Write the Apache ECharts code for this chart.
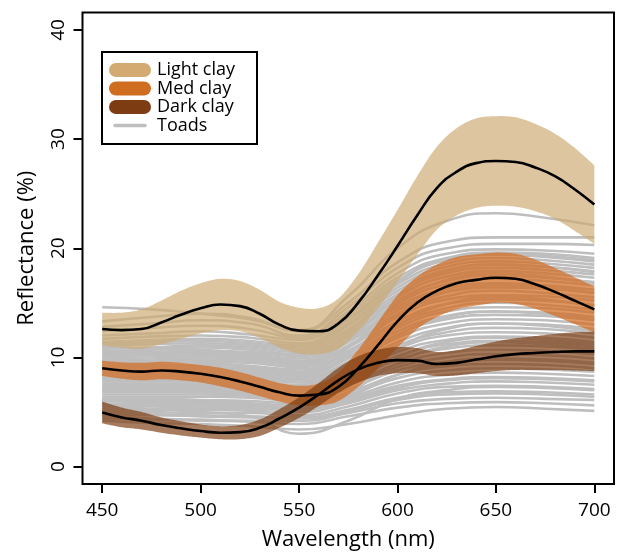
<!DOCTYPE html>
<html>
<head>
<meta charset="utf-8">
<script src="https://cdn.jsdelivr.net/npm/echarts@6/dist/echarts.min.js"></script>
<style>html,body{margin:0;padding:0;background:#fff}#chart{width:625px;height:556px}</style>
</head>
<body>
<div id="chart"></div>
<script>
// wavelengths for clay bands (nm)
var wl = [450,460,470,480,490,500,510,520,530,540,550,560,570,580,590,600,610,620,630,640,650,660,670,680,690,700];
var lightMean = [12.6,12.5,12.6,13.2,13.9,14.5,14.85,14.7,14.0,13.0,12.45,12.4,13.1,15.0,17.5,20.2,23.0,25.5,27.0,27.8,28.0,27.9,27.4,26.6,25.4,24.0];
var lightLo = [11.1,10.9,10.8,11.2,11.7,12.2,12.5,12.4,11.8,10.9,10.35,10.3,10.8,12.4,14.5,16.9,19.4,21.7,23.0,23.7,23.9,23.8,23.4,22.7,21.6,20.4];
var lightHi = [14.1,14.1,14.4,15.2,16.1,16.8,17.2,17.0,16.2,15.1,14.55,14.5,15.4,17.6,20.5,23.5,26.6,29.3,31.0,31.9,32.1,32.0,31.4,30.5,29.2,27.6];
var medMean = [9.0,8.8,8.7,8.8,8.7,8.5,8.2,7.8,7.3,6.8,6.5,6.6,7.3,9.0,11.1,13.3,15.0,16.1,16.8,17.1,17.3,17.2,16.7,16.0,15.2,14.4];
var medLo = [8.3,8.05,7.9,8.0,7.9,7.7,7.35,6.95,6.45,5.95,5.6,5.6,6.0,7.3,9.0,10.9,12.6,13.7,14.4,14.75,15.0,14.9,14.45,13.8,13.05,12.3];
var medHi = [9.7,9.55,9.5,9.6,9.5,9.3,9.05,8.65,8.15,7.65,7.4,7.6,8.6,10.7,13.2,15.7,17.4,18.5,19.2,19.45,19.6,19.5,18.95,18.2,17.35,16.5];
var darkMean = [4.95,4.5,4.2,3.8,3.5,3.25,3.1,3.15,3.55,4.4,5.4,6.6,7.9,8.9,9.5,9.75,9.7,9.4,9.5,9.8,10.1,10.3,10.4,10.5,10.55,10.55];
var darkLo = [3.95,3.6,3.4,3.1,2.85,2.65,2.5,2.5,2.8,3.55,4.45,5.55,6.75,7.7,8.3,8.55,8.55,8.3,8.35,8.55,8.75,8.85,8.85,8.85,8.8,8.75];
var darkHi = [5.95,5.4,5.0,4.5,4.15,3.85,3.7,3.8,4.3,5.25,6.35,7.65,9.05,10.1,10.7,10.95,10.85,10.5,10.65,11.05,11.45,11.75,11.95,12.15,12.3,12.35];

// wavelengths for individual toad spectra (nm)
var wlToad = [450,475,500,525,550,575,600,625,650,675,700];
var toads = [
  [4.2,4.0,3.9,3.7,3.4,3.9,4.7,5.3,5.45,5.3,5.1],
  [4.4,4.3,4.2,4.1,3.9,4.6,5.4,5.8,5.9,5.8,5.6],
  [4.6,4.4,4.3,4.2,4.2,4.9,5.8,6.2,6.3,6.2,6.1],
  [5.5,5.3,5.0,4.6,3.0,4.2,6.2,7.0,7.3,7.2,7.0],
  [4.9,4.8,4.7,4.6,4.5,5.2,6.3,6.8,6.9,6.8,6.6],
  [5.1,5.0,4.9,4.9,4.7,5.5,6.7,7.3,7.4,7.3,7.1],
  [5.3,5.2,5.2,5.1,5.0,5.8,7.0,7.6,7.8,7.7,7.5],
  [5.6,5.5,5.4,5.4,5.2,6.1,7.4,8.0,8.2,8.1,7.9],
  [5.8,5.7,5.7,5.6,5.4,6.3,7.7,8.4,8.6,8.5,8.3],
  [6.0,5.9,5.9,5.8,5.6,6.6,8.1,8.8,9.0,8.9,8.7],
  [6.2,6.2,6.1,6.0,5.8,6.8,8.4,9.2,9.4,9.3,9.0],
  [6.4,6.4,6.4,6.3,6.0,7.1,8.8,9.6,9.9,9.8,9.5],
  [6.6,6.6,6.6,6.5,6.3,7.4,9.1,10.0,10.3,10.2,9.9],
  [6.8,6.8,6.8,6.7,6.5,7.6,9.4,10.4,10.7,10.6,10.3],
  [7.0,7.0,7.0,6.9,6.7,7.9,9.8,10.8,11.1,11.0,10.7],
  [7.2,7.2,7.2,7.1,6.9,8.1,10.1,11.2,11.5,11.4,11.0],
  [7.4,7.4,7.4,7.3,7.1,8.4,10.5,11.6,11.9,11.8,11.4],
  [7.6,7.6,7.6,7.5,7.3,8.6,10.8,12.0,12.3,12.2,11.8],
  [7.8,7.8,7.8,7.7,7.5,8.9,11.1,12.3,12.7,12.6,12.2],
  [8.0,8.0,8.1,8.0,7.7,9.1,11.4,12.7,13.1,13.0,12.6],
  [8.2,8.2,8.3,8.2,7.9,9.4,11.8,13.1,13.5,13.4,13.0],
  [8.4,8.5,8.5,8.4,8.1,9.6,12.1,13.5,13.9,13.8,13.4],
  [8.6,8.7,8.7,8.6,8.3,9.9,12.4,13.8,14.2,14.1,13.7],
  [8.8,8.9,8.9,8.8,8.5,10.1,12.7,14.2,14.6,14.5,14.1],
  [9.0,9.1,9.1,9.0,8.7,10.4,13.0,14.5,15.0,14.8,14.4],
  [9.2,9.3,9.3,9.2,8.9,10.6,13.3,14.9,15.3,15.2,14.8],
  [9.4,9.5,9.6,9.5,9.1,10.9,13.7,15.3,15.7,15.6,15.2],
  [9.6,9.7,9.8,9.7,9.3,11.1,14.0,15.6,16.1,15.9,15.5],
  [9.8,9.9,10.0,9.9,9.5,11.4,14.3,16.0,16.4,16.3,15.9],
  [10.0,10.1,10.2,10.1,9.7,11.6,14.6,16.3,16.8,16.6,16.2],
  [10.2,10.3,10.4,10.3,9.9,11.9,14.9,16.7,17.2,17.0,16.6],
  [10.4,10.5,10.6,10.5,10.1,12.1,15.2,17.0,17.5,17.3,16.9],
  [10.6,10.7,10.9,10.7,10.3,12.4,15.5,17.4,17.9,17.7,17.3],
  [10.8,10.9,11.1,10.9,10.5,12.6,15.8,17.7,18.2,18.0,17.6],
  [11.0,11.2,11.3,11.1,10.7,12.9,16.1,18.0,18.5,18.3,17.9],
  [11.2,11.4,11.5,11.3,10.9,13.1,16.4,18.3,18.8,18.6,18.2],
  [11.4,11.6,11.7,11.5,11.1,13.4,16.7,18.6,19.1,18.9,18.5],
  [11.7,11.9,12.0,11.8,11.3,13.6,17.0,18.9,19.4,19.2,18.8],
  [12.0,12.2,12.4,12.1,11.6,13.9,17.3,19.1,19.6,19.5,19.1],
  [12.4,12.7,12.9,12.6,11.8,14.2,17.7,19.5,19.9,19.8,19.5],
  [12.8,13.1,13.4,13.1,12.0,14.6,18.2,20.0,20.4,20.4,20.3],
  [13.3,13.7,14.0,13.6,12.4,15.0,18.7,20.6,21.0,21.0,21.0],
  [14.6,14.4,14.0,13.5,12.5,15.6,20.0,22.5,23.2,22.8,22.1],
  [6.1,6.0,5.9,5.7,5.3,6.8,9.5,11.0,11.4,11.2,10.8],
  [7.1,7.0,6.9,6.7,6.2,7.8,10.8,12.6,13.1,12.9,12.4],
  [8.5,8.4,8.3,8.0,7.4,9.4,12.9,14.9,15.5,15.3,14.7],
  [9.7,9.6,9.5,9.2,8.6,10.9,14.9,17.1,17.7,17.4,16.8],
  [5.2,5.2,5.3,5.3,5.2,6.0,7.2,7.9,8.1,8.0,7.8],
  [4.7,4.7,4.6,4.5,4.4,5.1,6.1,6.6,6.7,6.6,6.4],
  [10.9,10.8,10.7,10.3,9.6,12.2,16.8,19.0,19.5,19.3,18.9],
  [6.9,6.9,6.8,6.6,6.1,7.5,10.0,11.4,11.8,11.6,11.2],
  [8.1,8.1,8.0,7.8,7.2,8.9,12.0,13.7,14.2,14.0,13.5],
  [9.3,9.2,9.1,8.9,8.3,10.3,13.9,16.0,16.6,16.4,15.9],
  [10.5,10.4,10.3,10.0,9.3,11.6,15.6,17.9,18.5,18.3,17.8],
  [5.7,5.6,5.6,5.5,5.3,6.4,8.4,9.5,9.8,9.7,9.4]
];

var xTicks = [450,500,550,600,650,700];
var yTicks = [0,10,20,30,40];
var legendNames = ['Light clay','Med clay','Dark clay','Toads'];
var legendColors = ['#D2AA72','#CF6D20','#7E3C12','#BEBEBE'];
var bandColors = ['rgba(205,170,115,0.68)','rgba(210,105,30,0.7)','rgba(120,55,10,0.66)'];

var FONT = 'Open Sans';

function pairs(xs, ys){ return xs.map(function(x,i){ return [x, ys[i]]; }); }

// Catmull-Rom sampling in pixel space (rendering only)
function splinePts(pts){
  var out = [], n = pts.length, S = 12;
  for (var i = 0; i < n - 1; i++){
    var p0 = pts[Math.max(i-1,0)], p1 = pts[i], p2 = pts[i+1], p3 = pts[Math.min(i+2,n-1)];
    for (var s = 0; s < S; s++){
      var t = s / S, t2 = t*t, t3 = t2*t;
      var x = 0.5*((2*p1[0]) + (-p0[0]+p2[0])*t + (2*p0[0]-5*p1[0]+4*p2[0]-p3[0])*t2 + (-p0[0]+3*p1[0]-3*p2[0]+p3[0])*t3);
      var y = 0.5*((2*p1[1]) + (-p0[1]+p2[1])*t + (2*p0[1]-5*p1[1]+4*p2[1]-p3[1])*t2 + (-p0[1]+3*p1[1]-3*p2[1]+p3[1])*t3);
      out.push([x, y]);
    }
  }
  out.push(pts[n-1]);
  return out;
}

function bandSeries(name, lo, hi, color){
  return {
    name: name, type: 'custom', coordinateSystem: 'cartesian2d', silent: true, z: 2,
    data: pairs(wl, hi),
    renderItem: function(params, api){
      if (params.dataIndex !== 0) return null;
      var up = wl.map(function(x,i){ return api.coord([x, hi[i]]); });
      var dn = wl.map(function(x,i){ return api.coord([x, lo[i]]); });
      var poly = splinePts(up).concat(splinePts(dn).reverse());
      return {type: 'polygon', shape: {points: poly}, style: {fill: color, stroke: null}};
    }
  };
}

var series = [];
toads.forEach(function(t){
  series.push({
    name: 'Toads', type: 'line', data: pairs(wlToad, t), smooth: true, symbol: 'none', silent: true,
    lineStyle: {color: '#BEBEBE', width: 2.6}, z: 1
  });
});
series.push(bandSeries('Light clay', lightLo, lightHi, bandColors[0]));
series.push(bandSeries('Med clay', medLo, medHi, bandColors[1]));
series.push(bandSeries('Dark clay', darkLo, darkHi, bandColors[2]));
[lightMean, medMean, darkMean].forEach(function(m){
  series.push({
    type: 'line', data: pairs(wl, m), smooth: true, symbol: 'none', silent: true,
    lineStyle: {color: '#000', width: 2.6}, z: 3
  });
});

// legend built with graphic elements
var lg = [];
lg.push({type:'rect', shape:{x:102, y:52, width:155, height:92}, style:{fill:'#fff', stroke:'#000', lineWidth:2}, z: 10});
var rowY = [70, 88.5, 107, 125.5];
for (var i=0;i<3;i++){
  lg.push({type:'rect', shape:{x:109, y:rowY[i]-7, width:42, height:14, r:7}, style:{fill: legendColors[i]}, z: 11});
}
lg.push({type:'line', shape:{x1:115, y1:rowY[3], x2:145, y2:rowY[3]}, style:{stroke: legendColors[3], lineWidth:3.5, lineCap:'round'}, z: 11});
for (var j=0;j<4;j++){
  lg.push({type:'text', x:157, y:rowY[j], style:{text: legendNames[j], fill:'#000', font: '18px "'+FONT+'"', verticalAlign:'middle', align:'left'}, z: 11});
}

var chart = echarts.init(document.getElementById('chart'), null, {renderer: 'canvas'});
chart.setOption({
  animation: false,
  backgroundColor: '#fff',
  grid: {left: 82.5, right: 11, top: 12.5, bottom: 68, show: true, borderColor: '#000', borderWidth: 2, backgroundColor: 'transparent'},
  xAxis: {
    type: 'value', min: 440, max: 710, position: 'bottom',
    name: 'Wavelength (nm)', nameLocation: 'middle', nameGap: 45, nameMoveOverlap: false,
    nameTextStyle: {fontFamily: FONT, fontSize: 22, color: '#000'},
    axisLine: {show: false, onZero: false},
    axisTick: {show: true, customValues: xTicks, length: 9, lineStyle: {color: '#000', width: 2}},
    axisLabel: {customValues: xTicks, fontFamily: FONT, fontSize: 19, color: '#000', margin: 17},
    splitLine: {show: false}
  },
  yAxis: {
    type: 'value', min: -1.6, max: 41.6, position: 'left',
    name: 'Reflectance (%)', nameLocation: 'middle', nameGap: 45, nameMoveOverlap: false,
    nameTextStyle: {fontFamily: FONT, fontSize: 22, color: '#000'},
    axisLine: {show: false, onZero: false},
    axisTick: {show: true, customValues: yTicks, length: 9, lineStyle: {color: '#000', width: 2}},
    axisLabel: {customValues: yTicks, fontFamily: FONT, fontSize: 19, color: '#000', margin: 14, rotate: 90},
    splitLine: {show: false}
  },
  series: series,
  graphic: lg
});
</script>
</body>
</html>
